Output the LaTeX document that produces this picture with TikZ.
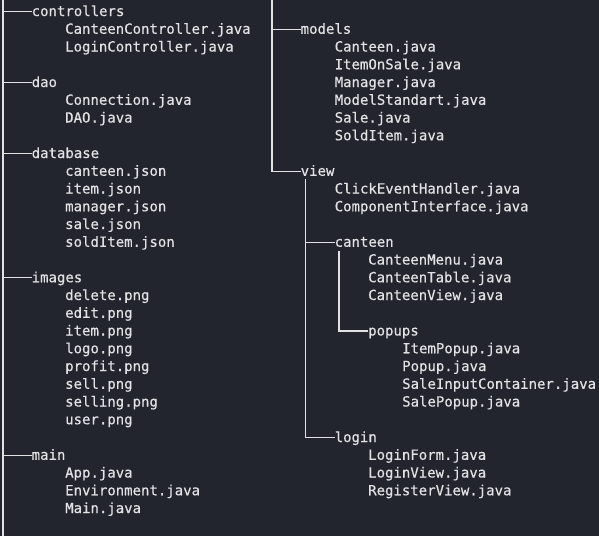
\documentclass[tikz,border=0pt]{standalone}
\usepackage{fontspec}
\setmonofont[FakeBold=0.4]{DejaVu Sans Mono}
\usetikzlibrary{positioning}

\definecolor{bgdark}{RGB}{35,37,46}
\definecolor{textlight}{RGB}{226,226,228}

\tikzset{
  entry/.style={anchor=west, inner sep=0pt, text height=9pt, text depth=0pt,
    font=\ttfamily\fontsize{14}{17}\selectfont, text=textlight},
  folder/.style={entry},
  file/.style={entry},
  branch/.style={draw=textlight, line width=1.3pt},
}

\begin{document}
\begin{tikzpicture}[x=1pt, y=-1pt]
  % Background and size
  \fill[bgdark] (0,0) rectangle (599,536);
  \useasboundingbox (0,0) rectangle (599,536);

  % Left column folders
  \node[folder] (controllers) at (31.5,11.5) {controllers};
  \node[folder] (dao) at (31.5,82.5) {dao};
  \node[folder] (database) at (31.5,153.5) {database};
  \node[folder] (images) at (31.5,277.75) {images};
  \node[folder] (main) at (31.5,455.25) {main};

  % Files in controllers
  \node[file] (ctrlCanteen) at (65,29.25) {CanteenController.java};
  \node[file] (ctrlLogin) at (65,47) {LoginController.java};

  % Files in dao
  \node[file] (daoConnection) at (65,100.25) {Connection.java};
  \node[file] (daoDAO) at (65,118) {DAO.java};

  % Files in database
  \node[file] (dbCanteen) at (65,171.25) {canteen.json};
  \node[file] (dbItem) at (65,189) {item.json};
  \node[file] (dbManager) at (65,206.75) {manager.json};
  \node[file] (dbSale) at (65,224.5) {sale.json};
  \node[file] (dbSoldItem) at (65,242.25) {soldItem.json};

  % Files in images
  \node[file] (imgDelete) at (65,295.5) {delete.png};
  \node[file] (imgEdit) at (65,313.25) {edit.png};
  \node[file] (imgItem) at (65,331) {item.png};
  \node[file] (imgLogo) at (65,348.75) {logo.png};
  \node[file] (imgProfit) at (65,366.5) {profit.png};
  \node[file] (imgSell) at (65,384.25) {sell.png};
  \node[file] (imgSelling) at (65,402) {selling.png};
  \node[file] (imgUser) at (65,419.75) {user.png};

  % Files in main
  \node[file] (mainApp) at (65,473) {App.java};
  \node[file] (mainEnv) at (65,490.75) {Environment.java};
  \node[file] (mainMain) at (65,508.5) {Main.java};

  % Right column folders
  \node[folder] (models) at (300.5,29.25) {models};
  \node[folder] (view) at (300.5,171.25) {view};
  \node[folder] (canteen) at (334.5,242.25) {canteen};
  \node[folder] (popups) at (368,331) {popups};
  \node[folder] (login) at (334.5,437.5) {login};

  % Files in models
  \node[file] (mdlCanteen) at (334.5,47) {Canteen.java};
  \node[file] (mdlItemOnSale) at (334.5,64.75) {ItemOnSale.java};
  \node[file] (mdlManager) at (334.5,82.5) {Manager.java};
  \node[file] (mdlStandart) at (334.5,100.25) {ModelStandart.java};
  \node[file] (mdlSale) at (334.5,118) {Sale.java};
  \node[file] (mdlSoldItem) at (334.5,135.75) {SoldItem.java};

  % Files in view
  \node[file] (viewClick) at (334.5,189) {ClickEventHandler.java};
  \node[file] (viewComponent) at (334.5,206.75) {ComponentInterface.java};

  % Files in canteen
  \node[file] (cntMenu) at (368,260) {CanteenMenu.java};
  \node[file] (cntTable) at (368,277.75) {CanteenTable.java};
  \node[file] (cntView) at (368,295.5) {CanteenView.java};

  % Files in popups
  \node[file] (popItem) at (402,348.75) {ItemPopup.java};
  \node[file] (popPopup) at (402,366.5) {Popup.java};
  \node[file] (popSaleInput) at (402,384.25) {SaleInputContainer.java};
  \node[file] (popSale) at (402,402) {SalePopup.java};

  % Files in login
  \node[file] (lgnForm) at (368,455.25) {LoginForm.java};
  \node[file] (lgnView) at (368,473) {LoginView.java};
  \node[file] (lgnRegister) at (368,490.75) {RegisterView.java};

  % Trunk points
  \coordinate (leftTop) at (3,0);
  \coordinate (leftBottom) at (3,536);
  \coordinate (rightTop) at (272,0);
  \coordinate (viewTrunk) at (305.5,179);
  \coordinate (canteenTrunk) at (339,251);

  % Lines of the left tree
  \draw[branch] (leftTop) -- (leftBottom);
  \draw[branch] (leftTop |- controllers.west) -- (controllers.west);
  \draw[branch] (leftTop |- dao.west) -- (dao.west);
  \draw[branch] (leftTop |- database.west) -- (database.west);
  \draw[branch] (leftTop |- images.west) -- (images.west);
  \draw[branch] (leftTop |- main.west) -- (main.west);

  % Lines of the right tree
  \draw[branch] (rightTop) |- (view.west);
  \draw[branch] (rightTop |- models.west) -- (models.west);
  \draw[branch] (viewTrunk) |- (login.west);
  \draw[branch] (viewTrunk |- canteen.west) -- (canteen.west);
  \draw[branch] (canteenTrunk) |- (popups.west);
\end{tikzpicture}
\end{document}
